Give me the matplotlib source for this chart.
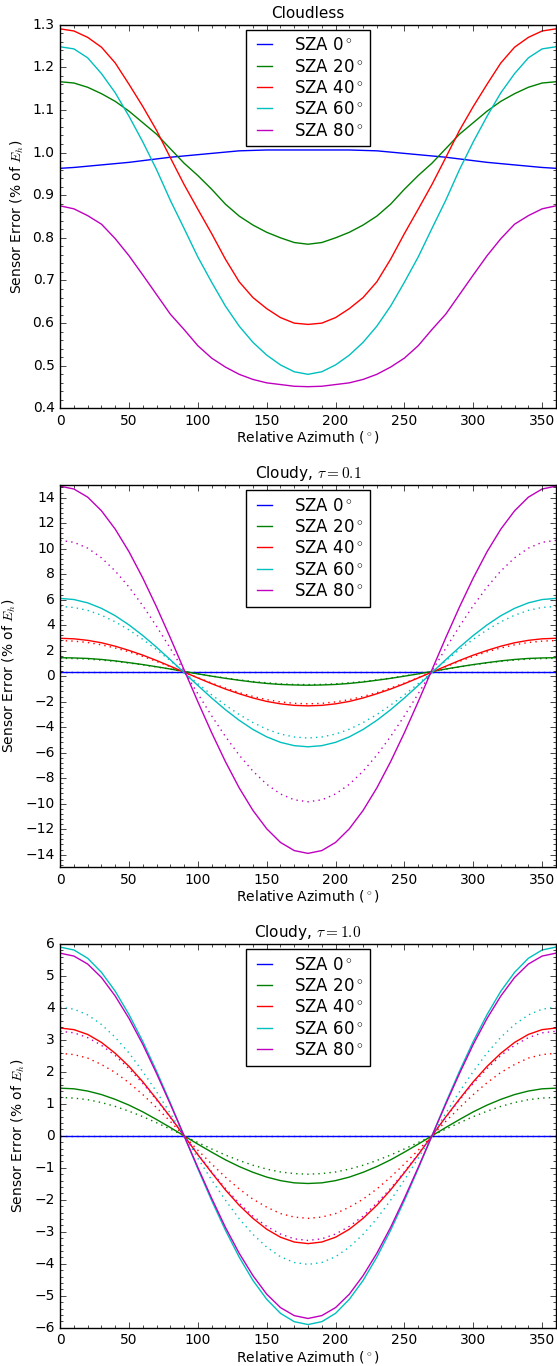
import matplotlib
matplotlib.use("Agg")
import matplotlib.pyplot as plt
from matplotlib.ticker import AutoMinorLocator, MultipleLocator

plt.style.use("classic")
plt.rcParams["figure.facecolor"] = "white"
plt.rcParams["savefig.facecolor"] = "white"

# relative azimuth, every 10 degrees
AZ = list(range(0, 361, 10))
SZA_LABELS = ["SZA 0$^\\circ$", "SZA 20$^\\circ$", "SZA 40$^\\circ$", "SZA 60$^\\circ$", "SZA 80$^\\circ$"]
COLORS = ["b", "g", "r", "c", "m"]

# --- cloudless ---
clear_sza0 = [0.963, 0.965, 0.968, 0.971, 0.974, 0.977, 0.981, 0.985, 0.989, 0.992, 0.995, 0.998, 1.001, 1.004, 1.005, 1.006, 1.006, 1.006, 1.006,
              1.006, 1.006, 1.006, 1.005, 1.004, 1.001, 0.998, 0.995, 0.992, 0.989, 0.985, 0.981, 0.977, 0.974, 0.971, 0.968, 0.965, 0.963]
clear_sza20 = [1.166, 1.163, 1.153, 1.138, 1.120, 1.097, 1.070, 1.043, 1.009, 0.975, 0.946, 0.914, 0.879, 0.851, 0.830, 0.813, 0.800, 0.789, 0.785,
               0.789, 0.800, 0.813, 0.830, 0.851, 0.879, 0.914, 0.946, 0.975, 1.009, 1.043, 1.070, 1.097, 1.120, 1.138, 1.153, 1.163, 1.166]
clear_sza40 = [1.290, 1.285, 1.270, 1.247, 1.210, 1.160, 1.108, 1.052, 0.988, 0.925, 0.867, 0.810, 0.750, 0.697, 0.660, 0.634, 0.613, 0.600, 0.597,
               0.600, 0.613, 0.634, 0.660, 0.697, 0.750, 0.810, 0.867, 0.925, 0.988, 1.052, 1.108, 1.160, 1.210, 1.247, 1.270, 1.285, 1.290]
clear_sza60 = [1.248, 1.243, 1.222, 1.185, 1.140, 1.085, 1.025, 0.960, 0.888, 0.822, 0.755, 0.696, 0.640, 0.593, 0.555, 0.525, 0.502, 0.486, 0.480,
               0.486, 0.502, 0.525, 0.555, 0.593, 0.640, 0.696, 0.755, 0.822, 0.888, 0.960, 1.025, 1.085, 1.140, 1.185, 1.222, 1.243, 1.248]
clear_sza80 = [0.875, 0.868, 0.852, 0.832, 0.798, 0.758, 0.713, 0.667, 0.621, 0.585, 0.547, 0.518, 0.497, 0.480, 0.468, 0.460, 0.456, 0.452, 0.451,
               0.452, 0.456, 0.460, 0.468, 0.480, 0.497, 0.518, 0.547, 0.585, 0.621, 0.667, 0.713, 0.758, 0.798, 0.832, 0.852, 0.868, 0.875]

# --- cloudy, tau = 0.1 (solid) ---
t01_sza0 = [0.31, 0.31, 0.31, 0.31, 0.31, 0.31, 0.31, 0.31, 0.31, 0.31, 0.31, 0.31, 0.31, 0.31, 0.31, 0.31, 0.31, 0.31, 0.31,
            0.31, 0.31, 0.31, 0.31, 0.31, 0.31, 0.31, 0.31, 0.31, 0.31, 0.31, 0.31, 0.31, 0.31, 0.31, 0.31, 0.31, 0.31]
t01_sza20 = [1.45, 1.43, 1.39, 1.31, 1.20, 1.06, 0.91, 0.74, 0.56, 0.37, 0.18, 0.00, -0.17, -0.32, -0.46, -0.57, -0.65, -0.69, -0.71,
             -0.69, -0.65, -0.57, -0.46, -0.32, -0.17, 0.00, 0.18, 0.37, 0.56, 0.74, 0.91, 1.06, 1.20, 1.31, 1.39, 1.43, 1.45]
t01_sza40 = [2.97, 2.93, 2.81, 2.62, 2.35, 2.02, 1.65, 1.23, 0.78, 0.32, -0.14, -0.59, -1.01, -1.38, -1.71, -1.98, -2.17, -2.29, -2.33,
             -2.29, -2.17, -1.98, -1.71, -1.38, -1.01, -0.59, -0.14, 0.32, 0.78, 1.23, 1.65, 2.02, 2.35, 2.62, 2.81, 2.93, 2.97]
t01_sza60 = [6.10, 6.01, 5.75, 5.32, 4.74, 4.02, 3.19, 2.27, 1.29, 0.28, -0.73, -1.71, -2.63, -3.46, -4.18, -4.76, -5.19, -5.45, -5.54,
             -5.45, -5.19, -4.76, -4.18, -3.46, -2.63, -1.71, -0.73, 0.28, 1.29, 2.27, 3.19, 4.02, 4.74, 5.32, 5.75, 6.01, 6.10]
t01_sza80 = [14.90, 14.68, 14.04, 12.97, 11.53, 9.76, 7.70, 5.43, 3.01, 0.50, -2.01, -4.43, -6.70, -8.76, -10.53, -11.97, -13.04, -13.68, -13.90,
             -13.68, -13.04, -11.97, -10.53, -8.76, -6.70, -4.43, -2.01, 0.50, 3.01, 5.43, 7.70, 9.76, 11.53, 12.97, 14.04, 14.68, 14.90]
# tau = 0.1 (dotted)
t01d_sza20 = [1.40, 1.38, 1.34, 1.26, 1.16, 1.03, 0.89, 0.72, 0.55, 0.37, 0.19, 0.02, -0.15, -0.29, -0.42, -0.52, -0.60, -0.65, -0.66,
              -0.65, -0.60, -0.52, -0.42, -0.29, -0.15, 0.02, 0.19, 0.37, 0.55, 0.72, 0.89, 1.03, 1.16, 1.26, 1.34, 1.38, 1.40]
t01d_sza40 = [2.79, 2.75, 2.64, 2.46, 2.21, 1.91, 1.55, 1.16, 0.74, 0.31, -0.12, -0.54, -0.93, -1.29, -1.59, -1.84, -2.02, -2.13, -2.17,
              -2.13, -2.02, -1.84, -1.59, -1.29, -0.93, -0.54, -0.12, 0.31, 0.74, 1.16, 1.55, 1.91, 2.21, 2.46, 2.64, 2.75, 2.79]
t01d_sza60 = [5.47, 5.39, 5.16, 4.78, 4.26, 3.63, 2.89, 2.08, 1.21, 0.31, -0.59, -1.46, -2.27, -3.01, -3.64, -4.16, -4.54, -4.77, -4.85,
              -4.77, -4.54, -4.16, -3.64, -3.01, -2.27, -1.46, -0.59, 0.31, 1.21, 2.08, 2.89, 3.63, 4.26, 4.78, 5.16, 5.39, 5.47]
t01d_sza80 = [10.65, 10.50, 10.04, 9.28, 8.25, 6.99, 5.53, 3.91, 2.18, 0.40, -1.38, -3.11, -4.73, -6.19, -7.45, -8.48, -9.24, -9.70, -9.85,
              -9.70, -9.24, -8.48, -7.45, -6.19, -4.73, -3.11, -1.38, 0.40, 2.18, 3.91, 5.53, 6.99, 8.25, 9.28, 10.04, 10.50, 10.65]

# --- cloudy, tau = 1.0 (solid) ---
t10_sza0 = [0.0, 0.0, 0.0, 0.0, 0.0, 0.0, 0.0, 0.0, 0.0, 0.0, 0.0, 0.0, 0.0, 0.0, 0.0, 0.0, 0.0, 0.0, 0.0,
            0.0, 0.0, 0.0, 0.0, 0.0, 0.0, 0.0, 0.0, 0.0, 0.0, 0.0, 0.0, 0.0, 0.0, 0.0, 0.0, 0.0, 0.0]
t10_sza20 = [1.49, 1.47, 1.40, 1.29, 1.14, 0.96, 0.75, 0.51, 0.26, 0.00, -0.26, -0.51, -0.75, -0.96, -1.14, -1.29, -1.40, -1.47, -1.49,
             -1.47, -1.40, -1.29, -1.14, -0.96, -0.75, -0.51, -0.26, 0.00, 0.26, 0.51, 0.75, 0.96, 1.14, 1.29, 1.40, 1.47, 1.49]
t10_sza40 = [3.37, 3.32, 3.17, 2.92, 2.58, 2.17, 1.69, 1.15, 0.59, 0.00, -0.59, -1.15, -1.69, -2.17, -2.58, -2.92, -3.17, -3.32, -3.37,
             -3.32, -3.17, -2.92, -2.58, -2.17, -1.69, -1.15, -0.59, 0.00, 0.59, 1.15, 1.69, 2.17, 2.58, 2.92, 3.17, 3.32, 3.37]
t10_sza60 = [5.90, 5.81, 5.55, 5.11, 4.52, 3.79, 2.95, 2.02, 1.03, 0.00, -1.03, -2.02, -2.95, -3.79, -4.52, -5.11, -5.55, -5.81, -5.90,
             -5.81, -5.55, -5.11, -4.52, -3.79, -2.95, -2.02, -1.03, 0.00, 1.03, 2.02, 2.95, 3.79, 4.52, 5.11, 5.55, 5.81, 5.90]
t10_sza80 = [5.71, 5.62, 5.37, 4.95, 4.37, 3.67, 2.86, 1.95, 0.99, 0.00, -0.99, -1.95, -2.86, -3.67, -4.37, -4.95, -5.37, -5.62, -5.71,
             -5.62, -5.37, -4.95, -4.37, -3.67, -2.86, -1.95, -0.99, 0.00, 0.99, 1.95, 2.86, 3.67, 4.37, 4.95, 5.37, 5.62, 5.71]
# tau = 1.0 (dotted)
t10d_sza20 = [1.20, 1.18, 1.13, 1.04, 0.92, 0.77, 0.60, 0.41, 0.21, 0.00, -0.21, -0.41, -0.60, -0.77, -0.92, -1.04, -1.13, -1.18, -1.20,
              -1.18, -1.13, -1.04, -0.92, -0.77, -0.60, -0.41, -0.21, 0.00, 0.21, 0.41, 0.60, 0.77, 0.92, 1.04, 1.13, 1.18, 1.20]
t10d_sza40 = [2.58, 2.54, 2.43, 2.23, 1.98, 1.66, 1.29, 0.88, 0.45, 0.00, -0.45, -0.88, -1.29, -1.66, -1.98, -2.23, -2.43, -2.54, -2.58,
              -2.54, -2.43, -2.23, -1.98, -1.66, -1.29, -0.88, -0.45, 0.00, 0.45, 0.88, 1.29, 1.66, 1.98, 2.23, 2.43, 2.54, 2.58]
t10d_sza60 = [4.02, 3.96, 3.78, 3.48, 3.08, 2.59, 2.01, 1.38, 0.70, 0.00, -0.70, -1.38, -2.01, -2.59, -3.08, -3.48, -3.78, -3.96, -4.02,
              -3.96, -3.78, -3.48, -3.08, -2.59, -2.01, -1.38, -0.70, 0.00, 0.70, 1.38, 2.01, 2.59, 3.08, 3.48, 3.78, 3.96, 4.02]
t10d_sza80 = [3.27, 3.22, 3.07, 2.83, 2.51, 2.10, 1.64, 1.12, 0.57, 0.00, -0.57, -1.12, -1.64, -2.10, -2.51, -2.83, -3.07, -3.22, -3.27,
              -3.22, -3.07, -2.83, -2.51, -2.10, -1.64, -1.12, -0.57, 0.00, 0.57, 1.12, 1.64, 2.10, 2.51, 2.83, 3.07, 3.22, 3.27]

panels = [
    ("Cloudless", (0.4, 1.3), 0.1,
     [clear_sza0, clear_sza20, clear_sza40, clear_sza60, clear_sza80], []),
    ("Cloudy, $\\tau=0.1$", (-15, 15), 2,
     [t01_sza0, t01_sza20, t01_sza40, t01_sza60, t01_sza80],
     [t01_sza0, t01d_sza20, t01d_sza40, t01d_sza60, t01d_sza80]),
    ("Cloudy, $\\tau=1.0$", (-6, 6), 1,
     [t10_sza0, t10_sza20, t10_sza40, t10_sza60, t10_sza80],
     [t10_sza0, t10d_sza20, t10d_sza40, t10d_sza60, t10d_sza80]),
]
# axes boxes in figure fraction [left, bottom, width, height]
rects = [[0.108, 0.701, 0.890, 0.281],
         [0.108, 0.365, 0.890, 0.280],
         [0.108, 0.028, 0.890, 0.281]]

fig = plt.figure(figsize=(5.57, 13.66), dpi=100)

for (title, ylim, ystep, solid, dotted), rect in zip(panels, rects):
    ax = fig.add_axes(rect)
    handles = []
    for i, c in enumerate(COLORS):
        h, = ax.plot(AZ, solid[i], color=c, lw=1.0)
        handles.append(h)
        if dotted:
            ax.plot(AZ, dotted[i], color=c, lw=1.0, ls=":")
    ax.set_xlim(0, 360)
    ax.set_ylim(*ylim)
    ax.xaxis.set_major_locator(MultipleLocator(50))
    ax.yaxis.set_major_locator(MultipleLocator(ystep))
    ax.xaxis.set_minor_locator(AutoMinorLocator(5))
    ax.yaxis.set_minor_locator(AutoMinorLocator(5))
    ax.tick_params(labelsize=10)
    ax.set_title(title, fontsize=11)
    ax.set_xlabel("Relative Azimuth ($^\\circ$)", fontsize=10, labelpad=1)
    ax.set_ylabel("Sensor Error (% of $E_h$)", fontsize=10)
    ax.legend(handles, SZA_LABELS, loc="upper center", fontsize=12,
              handlelength=1.5, handletextpad=1.0, labelspacing=0.2,
              borderpad=0.4, borderaxespad=0.3)

plt.savefig("out.png", dpi=100)
